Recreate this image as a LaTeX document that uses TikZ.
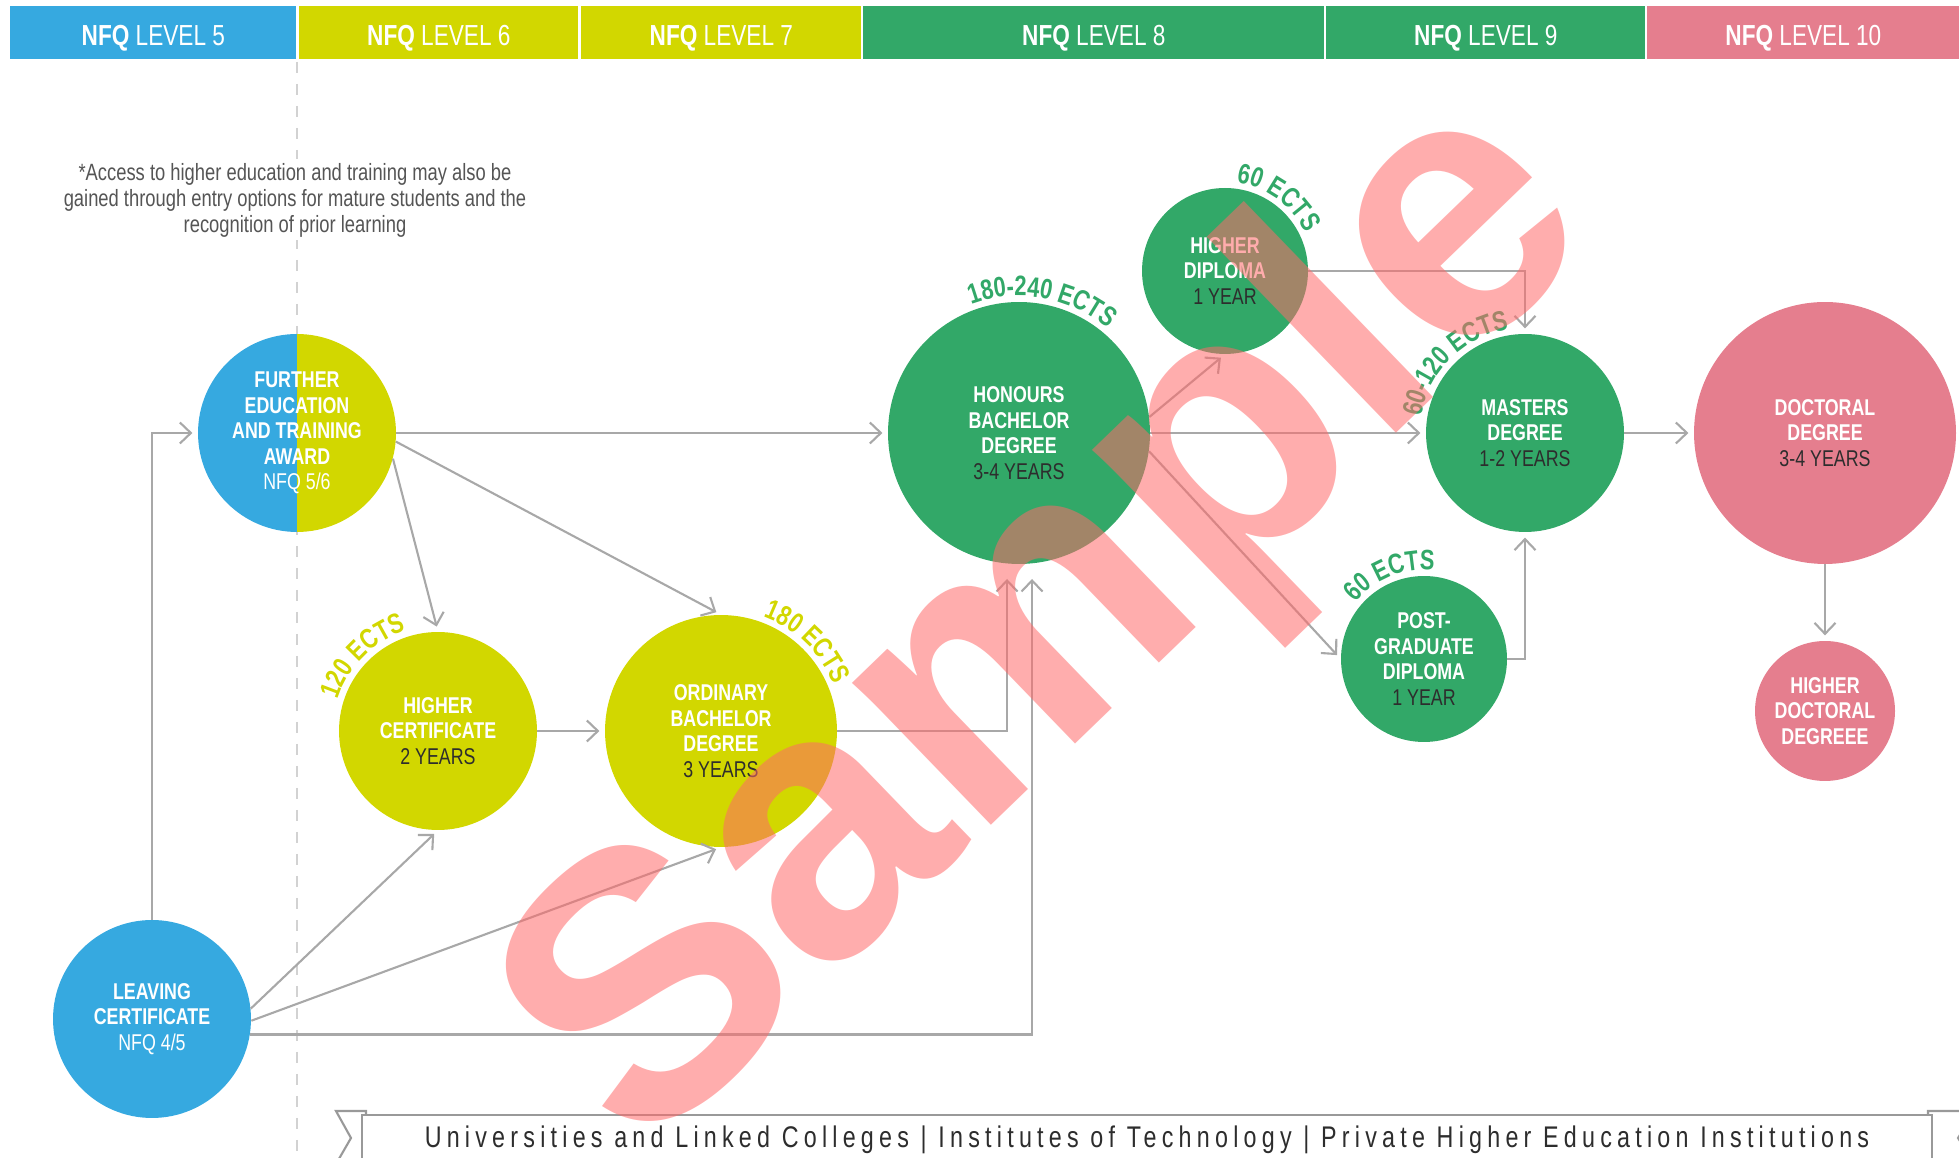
\documentclass[tikz,border=0pt]{standalone}
\usepackage{fontspec}
\setmainfont{Liberation Sans}
\newfontfamily\condfont{Liberation Sans}[FakeStretch=0.78]
\newfontfamily\bannerfont{Liberation Sans}[FakeStretch=0.78,LetterSpace=17.5]
\usepackage{xcolor}
\usepackage{tikz}
\usetikzlibrary{arrows.meta,calc,positioning,decorations.text}
\definecolor{lvblue}{RGB}{54,169,224}
\definecolor{lvlime}{RGB}{210,215,0}
\definecolor{lvgreen}{RGB}{50,168,104}
\definecolor{lvpink}{RGB}{229,126,142}
\definecolor{flowgray}{RGB}{168,168,168}
\definecolor{yeartext}{RGB}{45,45,45}
\definecolor{notegray}{RGB}{85,85,85}
\definecolor{wmark}{RGB}{255,105,105}
\newcommand\ectsfont{\condfont\bfseries\fontsize{16}{16}\selectfont}
\newcommand\yrs[1]{{\mdseries\color{yeartext}#1}}
\tikzset{
  hdr/.style={minimum height=1.06cm, inner sep=0, anchor=west, text=white, text height=14.5pt, text depth=0pt, font=\condfont\fontsize{16.5}{18}\selectfont},
  bubble/.style={circle, minimum size=#1, inner sep=0, align=center, text=white, font=\condfont\bfseries\fontsize{13}{14.6}\selectfont},
  flow/.style={-{Straight Barb[length=0.22cm,width=0.42cm]}, draw=flowgray, line width=1.2pt, shorten >=3pt},
  ects/.style={decorate, decoration={text along path, text align=center, text={#1}}},
  ribbon/.style={draw=gray!80, fill=white, line width=1.2pt}
}

\begin{document}
\begin{tikzpicture}[x=0.02cm, y=0.02cm]
    \useasboundingbox (0,0) rectangle (1959,1158);

    % Level divider
    \draw[gray!35, line width=0.8pt, dash pattern=on 0.22cm off 0.22cm] (297,1096) -- (297,0);

    % Levels
    \node[hdr, fill=lvblue, minimum width=5.72cm] (lv5) at (10,1125.5) {\textbf{NFQ} LEVEL 5};
    \node[hdr, fill=lvlime, minimum width=5.58cm] (lv6) at (299,1125.5) {\textbf{NFQ} LEVEL 6};
    \node[hdr, fill=lvlime, minimum width=5.60cm] (lv7) at (581,1125.5) {\textbf{NFQ} LEVEL 7};
    \node[hdr, fill=lvgreen, minimum width=9.22cm] (lv8) at (863,1125.5) {\textbf{NFQ} LEVEL 8};
    \node[hdr, fill=lvgreen, minimum width=6.38cm] (lv9) at (1326,1125.5) {\textbf{NFQ} LEVEL 9};
    \node[hdr, fill=lvpink, minimum width=6.24cm] (lv10) at (1647,1125.5) {\textbf{NFQ} LEVEL 10};

    % Note
    \node[fill=white, inner sep=2pt, align=center, text=notegray, font=\condfont\fontsize{13.4}{14.8}\selectfont] (note) at (295,958)
        {*Access to higher education and training may also be\\gained through entry options for mature students and the\\recognition of prior learning};

    % Level 5
    \node[bubble=3.96cm, path picture={
        \fill[lvblue] (path picture bounding box.south west) rectangle (path picture bounding box.north);
        \fill[lvlime] (path picture bounding box.south) rectangle (path picture bounding box.north east);}] (fe) at (297,725)
        {FURTHER\\EDUCATION\\AND TRAINING\\AWARD\\{\mdseries NFQ 5/6}};
    \node[bubble=3.96cm, fill=lvblue] (lc) at (152,139) {LEAVING\\CERTIFICATE\\{\mdseries NFQ 4/5}};

    % Level 6 and 7
    \node[bubble=3.96cm, fill=lvlime] (hc) at (438,427) {HIGHER\\CERTIFICATE\\\yrs{2 YEARS}};
    \node[bubble=4.64cm, fill=lvlime] (ob) at (721,427) {ORDINARY\\BACHELOR\\DEGREE\\\yrs{3 YEARS}};

    % Level 8
    \node[bubble=5.24cm, fill=lvgreen] (hb) at (1019,725) {HONOURS\\BACHELOR\\DEGREE\\\yrs{3-4 YEARS}};
    \node[bubble=3.32cm, fill=lvgreen] (hd) at (1225,887) {HIGHER\\DIPLOMA\\\yrs{1 YEAR}};

    % Level 9
    \node[bubble=3.96cm, fill=lvgreen] (md) at (1525,725) {MASTERS\\DEGREE\\\yrs{1-2 YEARS}};
    \node[bubble=3.32cm, fill=lvgreen] (pg) at (1424,499) {POST-\\GRADUATE\\DIPLOMA\\\yrs{1 YEAR}};

    % Level 10
    \node[bubble=5.24cm, fill=lvpink] (dd) at (1825,725) {DOCTORAL\\DEGREE\\\yrs{3-4 YEARS}};
    \node[bubble=2.8cm, fill=lvpink] (hdd) at (1825,447) {HIGHER\\DOCTORAL\\DEGREEE};

    % Credits
    \path[ects={|\color{lvlime}\ectsfont|120 ECTS}] ($(hc)+(180:105)$) arc (180:90:105);
    \path[ects={|\color{lvlime}\ectsfont|180 ECTS}] ($(ob)+(91:122)$) arc (91:1:122);
    \path[ects={|\color{lvgreen}\ectsfont|180-240 ECTS}] ($(hb)+(170:137)$) arc (170:-10:137);
    \path[ects={|\color{lvgreen}\ectsfont|60 ECTS}] ($(hd)+(144:89)$) arc (144:-36:89);
    \path[ects={|\color{lvgreen}\ectsfont|60-120 ECTS}] ($(md)+(225:105)$) arc (225:45:105);
    \path[ects={|\color{lvgreen}\ectsfont|60 ECTS}] ($(pg)+(202:89)$) arc (202:22:89);

    % Routes
    \coordinate (hb_in1) at (1007,579);
    \coordinate (hb_in2) at (1032,579);
    \draw[flow] (lc.north) |- (fe.west);
    \draw[flow] (fe.east) -- (hb.west);
    \draw[flow] (fe.-15) -- (hc.north);
    \draw[flow] (fe.-5) -- (ob.north);
    \draw[flow] (hc.east) -- (ob.west);
    \draw[flow, shorten >=0pt] (ob.east) -| (hb_in1);
    \draw[flow] (lc.6) -- (hc.south);
    \draw[flow] (lc.-1) -- (ob.south);
    \draw[flow, shorten >=0pt] (lc.-9) -| (hb_in2);
    \draw[flow] (hb.7) -- (hd.south);
    \draw[flow] (hb.east) -- (md.west);
    \draw[flow] (hb.-8) -- (pg.west);
    \draw[flow] (hd.east) -| (md.north);
    \draw[flow] (pg.east) -| (md.south);
    \draw[flow] (md.east) -- (dd.west);
    \draw[flow] (dd.south) -- (hdd.north);

    % Providers
    \draw[ribbon] (336,47) -- (366,47) -- (366,-6) -- (336,-6) -- (351,20) -- cycle;
    \draw[ribbon] (1928,47) -- (1975,47) -- (1958,20) -- (1975,-6) -- (1928,-6) -- cycle;
    \node[ribbon, minimum width=31.4cm, minimum height=0.98cm, inner sep=0, text=yeartext, font=\bannerfont\fontsize{17}{18}\selectfont] (banner) at (1147,18.5)
        {Universities and Linked Colleges | Institutes of Technology | Private Higher Education Institutions};

    % Watermark
    \node[rotate=44, text=wmark, opacity=0.55, font=\bfseries\fontsize{214}{214}\selectfont] (sample) at (1055,530) {Sample};
\end{tikzpicture}
\end{document}
